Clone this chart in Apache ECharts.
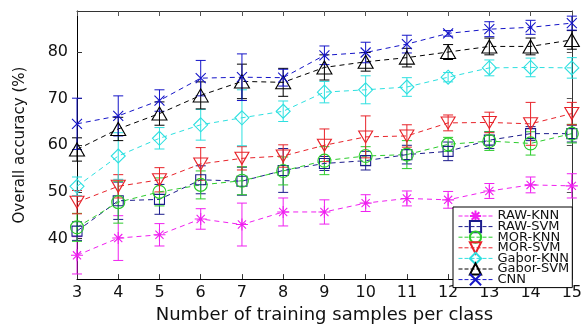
<!DOCTYPE html>
<html>
<head>
<meta charset="utf-8">
<script src="https://cdn.jsdelivr.net/npm/echarts@6/dist/echarts.min.js"></script>
<style>html,body{margin:0;padding:0;background:#fff;}#c{width:585px;height:329px;}</style>
</head>
<body>
<div id="c"></div>
<script>
// ---- data ----
var samples = [3, 4, 5, 6, 7, 8, 9, 10, 11, 12, 13, 14, 15];
var yTicks = [40, 50, 60, 70, 80];
var seriesNames = ['RAW-KNN', 'RAW-SVM', 'MOR-KNN', 'MOR-SVM', 'Gabor-KNN', 'Gabor-SVM', 'CNN'];

var rawKnn     = [36.4, 40.1, 40.8, 44.2, 43.0, 45.7, 45.7, 47.6, 48.6, 48.3, 50.2, 51.5, 51.3];
var rawKnnErr  = [4.0, 4.8, 2.4, 2.2, 4.6, 3.0, 2.6, 1.8, 1.6, 1.8, 1.6, 1.7, 2.6];
var rawSvm     = [41.6, 48.1, 48.4, 52.6, 52.3, 54.6, 56.1, 56.7, 58.0, 58.7, 61.1, 62.5, 62.5];
var rawSvmErr  = [2.0, 4.0, 3.2, 3.0, 3.0, 4.7, 1.5, 2.0, 2.0, 2.0, 1.8, 1.5, 1.8];
var morKnn     = [42.4, 47.8, 50.0, 51.5, 52.4, 54.5, 56.7, 57.7, 58.0, 60.2, 60.9, 60.4, 62.5];
var morKnnErr  = [3.0, 4.5, 3.0, 3.0, 3.0, 3.0, 3.0, 2.0, 3.0, 1.5, 2.0, 2.5, 2.0];
var morSvm     = [47.8, 51.2, 52.6, 56.0, 57.2, 57.7, 60.0, 61.8, 62.0, 64.8, 64.9, 64.6, 66.8];
var morSvmErr  = [2.5, 2.5, 2.6, 3.5, 2.5, 2.4, 3.5, 4.5, 2.4, 1.7, 2.2, 4.6, 2.4];
var gaborKnn   = [51.2, 57.7, 61.5, 64.4, 65.9, 67.3, 71.4, 71.9, 72.5, 74.6, 76.6, 76.7, 76.6];
var gaborKnnErr= [2.0, 5.0, 2.3, 3.3, 6.0, 2.2, 2.3, 3.0, 2.0, 1.0, 1.7, 2.0, 2.2];
var gaborSvm   = [59.1, 63.5, 66.8, 70.7, 73.7, 73.5, 76.7, 77.9, 78.8, 80.0, 81.2, 81.2, 82.6];
var gaborSvmErr= [2.5, 2.5, 2.5, 2.9, 3.7, 3.0, 2.7, 2.0, 2.0, 1.6, 1.8, 1.8, 2.0];
var cnn        = [64.6, 66.3, 69.6, 74.4, 74.6, 74.5, 79.3, 79.9, 81.7, 84.0, 84.9, 85.3, 86.2];
var cnnErr     = [5.5, 4.3, 2.3, 3.8, 5.0, 1.8, 2.0, 2.2, 1.9, 0.6, 1.6, 1.5, 1.5];

var values = [rawKnn, rawSvm, morKnn, morSvm, gaborKnn, gaborSvm, cnn];
var errors = [rawKnnErr, rawSvmErr, morKnnErr, morSvmErr, gaborKnnErr, gaborSvmErr, cnnErr];

// ---- styles ----
var colors = ['#f020f0', '#1c1c8c', '#2ccc2c', '#e8232a', '#2ee0e0', '#000000', '#1515c8'];
var symbols = [
  'path://M0,5L10,5M5,0L5,10M1.6,1.6L8.4,8.4M1.6,8.4L8.4,1.6',
  'path://M0,0L10,0L10,10L0,10Z',
  'circle',
  'path://M0,0L10,0L5,9Z',
  'path://M5,0L10,5L5,10L0,5Z',
  'path://M5,0L10,9L0,9Z',
  'path://M0,0L10,10M0,10L10,0'
];
var symbolSizes = [12, 10, 13, [14, 12], 14, [15, 13], 10];

var fontFam = 'DejaVu Sans';
var yMin = 31.3, yMax = 88.8;

var series = [];
seriesNames.forEach(function (name, i) {
  var pts = samples.map(function (x, k) { return [x, values[i][k]]; });
  var errPts = samples.map(function (x, k) {
    return [x, values[i][k] - errors[i][k], values[i][k] + errors[i][k]];
  });
  series.push({
    name: name + ' err',
    type: 'custom',
    z: 2,
    silent: true,
    clip: false,
    data: errPts,
    encode: { x: 0, y: [1, 2] },
    renderItem: function (params, api) {
      var x = api.value(0);
      var lo = api.coord([x, api.value(1)]);
      var hi = api.coord([x, api.value(2)]);
      var cw = 5;
      var st = { stroke: colors[i], lineWidth: 1 };
      return {
        type: 'group',
        children: [
          { type: 'line', shape: { x1: lo[0], y1: lo[1], x2: hi[0], y2: hi[1] }, style: st },
          { type: 'line', shape: { x1: lo[0] - cw, y1: lo[1], x2: lo[0] + cw, y2: lo[1] }, style: st },
          { type: 'line', shape: { x1: hi[0] - cw, y1: hi[1], x2: hi[0] + cw, y2: hi[1] }, style: st }
        ]
      };
    }
  });
  series.push({
    name: name,
    type: 'line',
    z: 3,
    clip: false,
    data: pts,
    symbol: symbols[i],
    symbolSize: symbolSizes[i],
    showAllSymbol: true,
    lineStyle: { color: colors[i], width: 1, type: [5, 4] },
    itemStyle: { color: 'transparent', borderColor: colors[i], borderWidth: 1.1 },
    emphasis: { disabled: true },
    animation: false
  });
});

var chart = echarts.init(document.getElementById('c'), null, { renderer: 'canvas' });
chart.setOption({
  animation: false,
  backgroundColor: '#fff',
  textStyle: { fontFamily: fontFam },
  grid: { left: 77, right: 12, top: 11, bottom: 39, containLabel: false },
  legend: {
    data: seriesNames,
    orient: 'vertical',
    left: 453,
    top: 207,
    backgroundColor: '#fff',
    borderColor: '#000',
    borderWidth: 1,
    borderRadius: 0,
    padding: [2, 3, 1, 5],
    itemWidth: 34,
    itemHeight: 14,
    itemGap: -3.4,
    lineStyle: { type: 'dashed', width: 1 },
    textStyle: { fontFamily: fontFam, fontSize: 13, color: '#111', lineHeight: 14 }
  },
  xAxis: [{
    type: 'value',
    min: 3, max: 15, interval: 1,
    position: 'bottom',
    name: 'Number of training samples per class',
    nameLocation: 'middle',
    nameGap: 25,
    nameTextStyle: { fontFamily: fontFam, fontSize: 18, color: '#111' },
    axisLine: { show: true, onZero: false, lineStyle: { color: '#000', width: 1 } },
    axisTick: { show: true, inside: true, length: 5, lineStyle: { color: '#333' } },
    axisLabel: { fontFamily: fontFam, fontSize: 16, color: '#111', margin: 6 },
    splitLine: { show: false }
  }, {
    type: 'value',
    min: 3, max: 15, interval: 1,
    position: 'top',
    axisLine: { show: true, onZero: false, lineStyle: { color: '#333', width: 1 } },
    axisTick: { show: true, inside: true, length: 5, lineStyle: { color: '#555' } },
    axisLabel: { show: false },
    splitLine: { show: false }
  }],
  yAxis: [{
    type: 'value',
    min: yMin, max: yMax,
    position: 'left',
    name: 'Overall accuracy (%)',
    nameLocation: 'middle',
    nameGap: 49,
    nameTextStyle: { fontFamily: fontFam, fontSize: 15, color: '#111' },
    axisLine: { show: true, onZero: false, lineStyle: { color: '#000', width: 1 } },
    axisTick: { show: true, inside: true, length: 5, customValues: yTicks, lineStyle: { color: '#333' } },
    axisLabel: { fontFamily: fontFam, fontSize: 16, color: '#111', margin: 9, customValues: yTicks },
    splitLine: { show: false }
  }, {
    type: 'value',
    min: yMin, max: yMax,
    position: 'right',
    axisLine: { show: true, onZero: false, lineStyle: { color: '#333', width: 1 } },
    axisTick: { show: true, inside: true, length: 5, customValues: yTicks, lineStyle: { color: '#555' } },
    axisLabel: { show: false },
    splitLine: { show: false }
  }],
  series: series
});
</script>
</body>
</html>
